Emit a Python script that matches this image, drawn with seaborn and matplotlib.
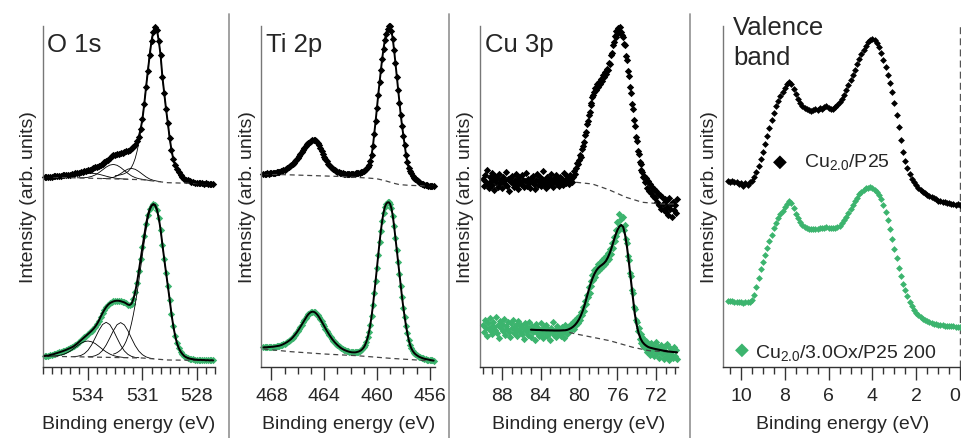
"""XPS panels: O 1s, Ti 2p, Cu 3p and valence band for two Cu/P25 samples."""
import numpy as np
import matplotlib
matplotlib.use("Agg")
import matplotlib.pyplot as plt
import seaborn as sns
from matplotlib.lines import Line2D
from matplotlib.ticker import MultipleLocator
from matplotlib.transforms import ScaledTranslation

sns.set_theme(style="white")
plt.rcParams.update({
    "font.size": 14,
    "mathtext.fontset": "custom",
    "mathtext.rm": "Liberation Sans",
    "mathtext.it": "Liberation Sans:italic",
})
plt.rcParams["font.family"] = ["Liberation Sans", "DejaVu Sans"]

GREEN = "#3cb46e"
DASH = (0, (4, 3))

# ---------------- data (intensity in arb. units, energies in eV) ----------------
# O 1s, measured points from 536.4 to 527.1 eV every 0.1 eV
o1s_top = [
    190.0, 190.2, 190.0, 190.5, 190.3, 190.8, 190.6, 191.0, 191.2, 191.0,
    191.6, 191.8, 192.0, 192.4, 192.5, 193.0, 193.3, 193.6, 194.2, 194.5,
    195.0, 195.4, 195.8, 196.2, 196.6, 197.3, 198.0, 198.8, 199.6, 200.5,
    201.4, 202.4, 203.5, 204.6, 205.8, 207.5, 209.5, 211.0, 211.8, 212.3,
    212.8, 213.2, 213.8, 214.3, 215.0, 215.6, 216.4, 217.2, 218.6, 220.2,
    222.3, 226.0, 230.5, 238.0, 248.0, 263.0, 280.0, 296.0, 312.0, 326.0,
    335.0, 340.5, 337.0, 326.0, 312.0, 290.0, 274.0, 258.0, 244.0, 229.0,
    217.0, 208.0, 202.0, 198.0, 195.0, 192.0, 190.0, 188.5, 187.4, 186.6,
    185.8, 185.2, 184.8, 184.4, 184.2, 184.0, 183.7, 183.8, 183.4, 183.6,
    183.2, 183.4, 183.0, 183.2,
]
o1s_bot = [
    11.0, 11.5, 11.2, 12.0, 12.4, 12.8, 13.5, 14.0, 14.6, 15.2,
    15.8, 16.5, 17.2, 18.0, 18.8, 19.6, 20.6, 22.0, 23.4, 25.0,
    26.6, 28.2, 29.8, 31.4, 33.0, 34.6, 36.3, 38.2, 40.5, 43.2,
    46.5, 50.5, 54.0, 57.2, 60.0, 62.2, 63.8, 64.8, 65.6, 66.1,
    66.3, 66.2, 65.8, 65.2, 64.6, 63.6, 62.4, 62.0, 63.4, 68.0,
    75.0, 84.5, 96.0, 108.0, 120.0, 131.5, 143.0, 152.0, 158.0, 161.5,
    163.0, 162.0, 157.5, 149.0, 137.5, 122.5, 108.0, 94.5, 81.0, 67.5,
    53.0, 41.0, 31.5, 24.0, 19.0, 15.5, 13.0, 11.0, 9.8, 9.0,
    8.4, 8.0, 7.6, 7.4, 7.3, 7.0, 7.2, 6.9, 7.0, 6.7,
    6.9, 6.6, 6.8, 6.6,
]
# O 1s fit components (start eV, step eV, values)
o1s_top_main = (532.5, 0.1, [
    191.3, 191.5, 191.9, 192.2, 192.7, 193.3, 194.3, 195.4, 197.4, 199.9,
    203.6, 208.6, 215.5, 224.2, 235.4, 248.9, 264.1, 280.8, 297.9, 314.1,
    327.6, 336.8, 339.8, 336.4, 326.8, 311.0, 289.5, 273.5, 257.5, 243.0,
    228.0, 216.0, 207.0, 200.5, 196.0, 192.0, 189.5, 187.8, 186.5, 185.6,
    184.9, 184.4, 184.0, 183.7, 183.5, 183.4, 183.3, 183.2, 183.2, 183.1,
    183.1,
])
o1s_top_c1 = (535.8, 0.2, [
    189.8, 189.8, 189.8, 190.0, 190.4, 190.9, 191.6, 192.4, 193.1, 193.6,
    193.7, 193.4, 192.7, 191.8, 190.8, 189.9, 189.2, 188.6, 188.2, 188.0,
    187.8,
])
o1s_top_c2 = (534.6, 0.2, [
    189.2, 189.2, 189.3, 189.7, 190.6, 192.1, 194.4, 197.1, 199.9, 201.9,
    202.6, 201.7, 199.5, 196.5, 193.6, 191.1, 189.4, 188.3, 187.7, 187.1,
    186.5,
])
o1s_top_c3 = (533.2, 0.2, [
    188.5, 188.6, 188.9, 189.7, 191.2, 193.4, 195.9, 197.9, 198.6, 197.7,
    195.5, 192.8, 190.1, 188.0, 186.7, 185.9, 185.3,
])
o1s_bot_main = (532.6, 0.1, [
    12.9, 13.5, 14.4, 15.6, 17.1, 19.3, 22.1, 25.8, 30.6, 36.5,
    43.9, 52.5, 62.5, 73.8, 86.1, 99.1, 112.3, 125.3, 137.3, 147.7,
    155.5, 160.5, 162.1, 160.5, 156.0, 148.0, 136.5, 122.5, 108.0, 94.5,
    81.0, 67.0, 53.0, 41.0, 31.5, 24.0, 19.0, 15.5, 13.0, 11.2,
    10.0, 9.2, 8.6, 8.2, 7.9, 7.6, 7.4, 7.2, 7.1, 7.0,
    6.9,
])
o1s_bot_c1 = (536.2, 0.2, [
    10.8, 10.9, 11.1, 11.5, 12.4, 13.8, 15.7, 18.3, 21.0, 23.6,
    25.4, 26.0, 25.2, 23.4, 20.6, 17.7, 15.1, 13.0, 11.4, 10.5,
    9.9, 9.5, 9.3,
])
o1s_bot_c2 = (534.8, 0.2, [
    10.5, 10.7, 11.5, 13.4, 16.8, 22.2, 29.3, 36.7, 42.5, 44.7,
    42.4, 36.4, 28.9, 21.7, 16.1, 12.6, 10.6, 9.6, 9.3,
])
o1s_bot_c3 = (534.0, 0.2, [
    10.2, 10.4, 11.3, 13.1, 16.5, 22.0, 29.0, 36.4, 42.3, 44.4,
    42.1, 36.2, 28.6, 21.4, 15.9, 12.3, 10.1, 8.9, 8.3,
])
o1s_top_bg_e = [536.4, 533.0, 531.0, 530.3, 529.6, 528.0, 527.1]
o1s_top_bg = [190.0, 188.3, 187.3, 185.8, 184.3, 183.5, 183.2]
o1s_bot_bg_e = [536.4, 531.0, 529.6, 527.1]
o1s_bot_bg = [10.8, 9.0, 7.0, 6.5]

# Ti 2p, 468.6 to 455.7 eV every 0.1 eV
ti_top = [
    193.0, 193.4, 193.2, 193.6, 193.5, 193.9, 193.8, 194.0, 194.3, 194.2,
    194.6, 194.9, 195.3, 195.6, 196.1, 196.7, 197.3, 198.0, 198.8, 199.7,
    200.6, 201.6, 202.8, 204.2, 205.6, 207.2, 208.9, 210.8, 212.9, 215.0,
    217.2, 219.3, 221.2, 222.9, 224.3, 225.5, 226.5, 227.1, 227.3, 226.9,
    225.9, 224.0, 221.6, 218.9, 216.0, 213.2, 210.5, 208.0, 205.6, 203.5,
    201.6, 200.1, 198.8, 197.7, 196.7, 195.9, 195.2, 194.7, 194.3, 194.0,
    193.7, 193.5, 193.3, 193.2, 193.1, 193.0, 193.0, 193.1, 193.2, 193.4,
    193.6, 193.9, 194.2, 194.5, 194.9, 195.4, 196.0, 196.8, 198.0, 199.7,
    202.5, 206.5, 212.5, 221.5, 233.5, 246.0, 259.5, 272.5, 285.0, 297.0,
    308.5, 318.5, 327.0, 333.5, 338.0, 340.8, 341.2, 336.0, 328.0, 317.0,
    304.0, 290.5, 277.0, 264.5, 252.5, 241.5, 231.5, 222.0, 212.5, 205.0,
    199.5, 196.0, 193.8, 191.5, 189.5, 188.0, 186.8, 185.6, 184.8, 184.0,
    183.4, 182.9, 182.5, 182.1, 181.8, 181.5, 181.3, 181.0, 180.8, 180.7,
]
ti_bot = [
    19.6, 19.8, 19.7, 19.9, 20.0, 20.0, 20.2, 20.2, 20.4, 20.5,
    20.7, 21.0, 21.3, 21.7, 22.2, 22.8, 23.5, 24.2, 25.0, 25.9,
    26.9, 28.0, 29.3, 30.8, 32.4, 34.1, 36.0, 38.0, 40.2, 42.4,
    44.6, 46.8, 49.0, 51.0, 52.7, 54.0, 54.9, 55.3, 55.2, 54.6,
    53.5, 52.0, 50.1, 48.0, 45.7, 43.3, 40.9, 38.5, 36.2, 34.0,
    31.9, 29.9, 28.0, 26.3, 24.7, 23.3, 22.0, 20.8, 19.7, 18.7,
    17.9, 17.2, 16.6, 16.1, 15.6, 15.2, 14.9, 14.7, 14.6, 14.6,
    14.7, 15.0, 15.4, 16.0, 16.8, 18.0, 19.6, 22.0, 25.3, 29.6,
    35.2, 42.5, 51.5, 62.0, 74.0, 86.5, 99.5, 112.5, 125.0, 136.5,
    146.5, 154.5, 160.0, 163.2, 164.6, 164.7, 163.0, 158.6, 151.0, 141.0,
    129.5, 117.5, 105.5, 93.5, 81.5, 70.0, 59.5, 50.0, 41.5, 34.0,
    27.5, 22.5, 18.8, 16.3, 14.4, 13.0, 11.9, 11.0, 10.2, 9.6,
    9.1, 8.6, 8.2, 7.9, 7.5, 7.3, 7.1, 6.9, 6.6, 6.4,
]
ti_top_bg_e = [468.6, 466.0, 463.0, 460.7, 460.0, 459.4, 458.8, 458.3, 457.5, 455.7]
ti_top_bg = [193.0, 191.9, 190.6, 189.0, 188.2, 186.4, 184.0, 182.4, 181.6, 181.0]
ti_bot_bg_e = [468.6, 466.5, 464.0, 461.5, 459.0, 456.4, 455.7]
ti_bot_bg = [18.0, 15.3, 13.0, 11.3, 8.7, 6.5, 6.3]

# Cu 3p, 90.0 to 69.8 eV every 0.1 eV (noisy)
cu_top = [
    188, 181, 192, 185, 197, 183, 179, 190, 186, 194,
    182, 188, 177, 191, 185, 189, 180, 193, 184, 187,
    179, 190, 186, 183, 195, 181, 188, 176, 189, 185,
    191, 184, 180, 187, 193, 182, 186, 178, 190, 185,
    183, 192, 187, 180, 186, 194, 181, 188, 184, 179,
    189, 185, 191, 183, 178, 187, 193, 182, 186, 190,
    181, 188, 184, 196, 183, 187, 179, 190, 185, 182,
    188, 193, 184, 180, 189, 186, 192, 183, 187, 181,
    190, 185, 188, 182, 194, 187, 184, 191, 186, 189,
    183, 192, 188, 185, 190, 196, 193, 199, 204, 203,
    207, 212, 210, 218, 221, 225, 232, 235, 243, 246,
    252, 255, 262, 264, 270, 272, 275, 279, 277, 283,
    280, 285, 283, 288, 286, 292, 290, 295, 293, 298,
    297, 304, 303, 312, 314, 322, 325, 331, 330, 336,
    333, 339, 336, 340, 335, 332, 330, 323, 322, 311,
    307, 296, 291, 280, 274, 263, 258, 247, 241, 230,
    226, 216, 213, 205, 203, 197, 195, 190, 191, 185,
    189, 179, 186, 176, 183, 174, 180, 171, 178, 169,
    176, 165, 173, 162, 172, 158, 170, 163, 157, 168,
    155, 166, 160, 152, 169, 158, 163, 150, 165, 157,
    162, 154, 168,
]
cu_bot = [
    42, 35, 47, 39, 31, 44, 38, 49, 36, 41,
    33, 45, 40, 37, 50, 34, 42, 29, 46, 39,
    43, 36, 48, 32, 41, 38, 45, 35, 30, 44,
    39, 47, 34, 41, 37, 43, 31, 46, 38, 35,
    42, 33, 39, 28, 44, 36, 40, 32, 45, 37,
    30, 41, 35, 38, 27, 43, 34, 39, 31, 36,
    44, 33, 37, 29, 40, 35, 42, 31, 38, 34,
    27, 39, 36, 45, 32, 37, 30, 41, 35, 33,
    38, 31, 40, 35, 29, 42, 36, 33, 39, 37,
    41, 36, 43, 39, 45, 38, 47, 42, 49, 44,
    51, 47, 55, 52, 60, 56, 66, 63, 72, 70,
    80, 74, 86, 81, 92, 87, 97, 90, 99, 95,
    103, 97, 104, 99, 107, 101, 109, 103, 111, 106,
    114, 108, 118, 113, 124, 119, 130, 126, 137, 131,
    145, 136, 153, 141, 148, 139, 150, 137, 142, 128,
    124, 111, 107, 94, 91, 77, 74, 60, 58, 47,
    45, 36, 39, 28, 33, 24, 30, 21, 27, 19,
    26, 15, 23, 18, 12, 24, 16, 21, 11, 19,
    25, 14, 20, 9, 17, 22, 13, 18, 8, 21,
    15, 10, 23, 13, 7, 19, 12, 16, 9, 20,
    11, 17, 8,
]
cu_bot_fit = (85.0, 0.2, [
    37.3, 37.2, 37.1, 37.0, 37.0, 36.9, 36.8, 36.8, 36.7, 36.7,
    36.6, 36.6, 36.5, 36.5, 36.5, 36.5, 36.6, 36.7, 36.8, 37.2,
    38.0, 39.0, 40.4, 42.2, 44.6, 47.6, 51.6, 56.5, 62.5, 69.5,
    76.5, 83.0, 88.5, 93.0, 96.5, 99.0, 100.8, 102.2, 103.8, 106.0,
    109.5, 114.0, 119.5, 126.0, 132.0, 137.0, 140.5, 142.0, 140.0, 132.0,
    119.5, 104.0, 87.0, 70.0, 53.5, 42.0, 34.0, 28.5, 25.0, 22.8,
    21.2, 20.0, 19.3, 18.8, 18.3, 17.9, 17.5, 17.1, 16.7, 16.3,
    16.0, 15.7, 15.4, 15.2, 15.0, 14.8, 14.6,
])
cu_top_bg_e = [80.3, 78.6, 76.9, 75.1, 73.4, 71.3, 69.8]
cu_top_bg = [184.7, 183.0, 177.3, 169.7, 164.7, 163.0, 163.0]
cu_bot_bg_e = [81.0, 80.3, 76.8, 74.4, 72.7, 69.8]
cu_bot_bg = [34.5, 33.0, 26.3, 19.7, 16.3, 14.7]

# valence band, 10.6 to -0.1 eV every 0.1 eV
vb_top = [
    186.5, 185.5, 186.0, 184.8, 185.2, 183.5, 184.5, 181.5, 183.8, 182.5,
    184.7, 186.5, 190.0, 195.0, 201.5, 208.5, 215.5, 223.0, 231.0, 239.5,
    247.5, 254.5, 261.0, 266.5, 271.0, 275.5, 279.5, 283.0, 285.5, 283.5,
    278.5, 273.0, 268.5, 264.5, 261.5, 259.5, 258.0, 257.0, 256.0, 256.8,
    258.5, 257.5, 259.5, 258.0, 260.0, 261.0, 259.0, 258.5, 258.5, 260.0,
    262.0, 265.0, 268.5, 272.5, 277.0, 282.0, 287.0, 292.0, 297.5, 303.0,
    308.0, 313.0, 317.5, 321.5, 325.0, 327.5, 328.5, 327.5, 324.5, 320.0,
    314.0, 307.5, 300.5, 292.5, 284.5, 275.0, 264.5, 252.5, 240.0, 227.0,
    215.0, 206.0, 199.0, 193.0, 188.5, 185.0, 182.0, 179.0, 177.0, 175.5,
    174.0, 172.5, 171.0, 170.0, 169.0, 168.0, 166.5, 166.0, 165.0, 164.8,
    164.0, 163.8, 163.2, 163.0, 162.5, 162.6, 162.2, 162.0,
]
vb_bot = [
    66.5, 66.0, 65.8, 65.2, 65.0, 64.6, 64.8, 64.4, 64.6, 64.8,
    65.5, 67.5, 72.5, 80.0, 89.0, 98.0, 105.5, 112.5, 119.5, 126.0,
    132.5, 139.0, 144.5, 149.0, 153.0, 156.5, 160.0, 163.5, 166.0, 164.5,
    159.0, 153.5, 149.0, 145.0, 142.5, 140.5, 139.5, 138.5, 138.0, 138.0,
    138.5, 138.3, 138.8, 139.2, 139.0, 140.0, 139.5, 139.0, 138.7, 139.0,
    140.0, 141.5, 144.0, 147.0, 150.5, 154.0, 158.0, 162.0, 166.0, 169.5,
    173.0, 175.5, 177.5, 178.8, 179.5, 179.8, 179.0, 177.5, 175.5, 172.5,
    168.0, 162.0, 155.0, 147.0, 138.0, 128.5, 118.5, 109.0, 99.5, 91.0,
    83.5, 77.0, 71.0, 65.5, 61.0, 57.5, 54.5, 52.0, 50.0, 48.5,
    47.0, 46.0, 45.0, 44.2, 43.5, 43.0, 42.5, 42.0, 41.7, 41.4,
    41.2, 41.0, 40.8, 40.6, 40.4, 40.2, 40.0, 39.8,
]

labels = ["Cu$_{\\mathregular{2.0}}$/P25", "Cu$_{\\mathregular{2.0}}$/3.0Ox/P25 200"]


def grid(start, step, values):
    """Energy axis (descending) for a list of points taken every `step` eV."""
    return start - step * np.arange(len(values))


def points(ax, e, y, color, size):
    sns.scatterplot(x=e, y=y, marker="D", s=size, color=color, linewidth=0,
                    ax=ax, clip_on=False, zorder=2)


def curve(ax, e, y, lw=1.4, **kw):
    sns.lineplot(x=e, y=y, sort=False, estimator=None, color="black",
                 linewidth=lw, ax=ax, zorder=3, **kw)


def thin(ax, comp):
    start, step, vals = comp
    ax.plot(grid(start, step, vals), vals, color="black", lw=0.6, zorder=3)


def bg_line(ax, e, y):
    ax.plot(e, y, color="#444444", lw=0.9, ls=DASH, zorder=3)


def setup(ax, xlim, major, minor, title):
    ax.set_xlim(*xlim)
    ax.set_ylim(0, 341)
    ax.set_yticks([])
    for s in ["top", "right"]:
        ax.spines[s].set_visible(False)
    ax.spines["left"].set_color("#777777")
    ax.spines["bottom"].set_color("#333333")
    ax.spines["left"].set_linewidth(1.0)
    ax.spines["bottom"].set_linewidth(1.0)
    ax.xaxis.set_major_locator(MultipleLocator(major))
    ax.xaxis.set_minor_locator(MultipleLocator(minor))
    ax.tick_params(axis="x", which="major", bottom=True, direction="out",
                   length=9, width=1, color="#333333", pad=5.5, labelsize=14)
    ax.tick_params(axis="x", which="minor", bottom=True, direction="out",
                   length=5, width=1, color="#333333")
    ax.set_xlabel("Binding energy (eV)", fontsize=14, labelpad=8)
    ax.set_ylabel("Intensity (arb. units)", fontsize=14, labelpad=4)
    if title:
        ax.text(0.025, 0.928, title, transform=ax.transAxes, fontsize=18.5,
                ha="left", va="baseline")


fig = plt.figure(figsize=(9.62, 4.39), dpi=100)
W, H = 962.0, 439.0
bottom, height = (H - 368) / H, 341 / H
boxes = [(42.7, 215.0), (261.5, 435.0), (480.0, 678.0), (723.5, 962.0)]
axes = [fig.add_axes([l / W, bottom, (r - l) / W, height]) for l, r in boxes]
ax1, ax2, ax3, ax4 = axes

# O 1s
e = grid(536.4, 0.1, o1s_top)
points(ax1, e, o1s_top, "black", 14)
for c in (o1s_top_c1, o1s_top_c2, o1s_top_c3, o1s_top_main):
    thin(ax1, c)
bg_line(ax1, o1s_top_bg_e, o1s_top_bg)
curve(ax1, e, o1s_top)
e = grid(536.4, 0.1, o1s_bot)
points(ax1, e, o1s_bot, GREEN, 14)
for c in (o1s_bot_c1, o1s_bot_c2, o1s_bot_c3, o1s_bot_main):
    thin(ax1, c)
bg_line(ax1, o1s_bot_bg_e, o1s_bot_bg)
curve(ax1, e, o1s_bot)
setup(ax1, (536.5, 527.0), 3, 0.5, "O 1s")

# Ti 2p
e = grid(468.6, 0.1, ti_top)
points(ax2, e, ti_top, "black", 14)
bg_line(ax2, ti_top_bg_e, ti_top_bg)
curve(ax2, e, ti_top)
e = grid(468.6, 0.1, ti_bot)
points(ax2, e, ti_bot, GREEN, 14)
bg_line(ax2, ti_bot_bg_e, ti_bot_bg)
curve(ax2, e, ti_bot)
setup(ax2, (468.75, 455.6), 4, 1, "Ti 2p")

# Cu 3p
e = grid(90.0, 0.1, cu_top)
points(ax3, e, cu_top, "black", 14)
bg_line(ax3, cu_top_bg_e, cu_top_bg)
e = grid(90.0, 0.1, cu_bot)
points(ax3, e, cu_bot, GREEN, 14)
bg_line(ax3, cu_bot_bg_e, cu_bot_bg)
start, step, vals = cu_bot_fit
curve(ax3, grid(start, step, vals), vals, lw=1.5)
setup(ax3, (90.3, 69.7), 4, 1, "Cu 3p")

# valence band
e = grid(10.6, 0.1, vb_top)
points(ax4, e, vb_top, "black", 12)
e = grid(10.6, 0.1, vb_bot)
points(ax4, e, vb_bot, GREEN, 12)
ax4.axvline(0, color="#555555", lw=1.0, ls=(0, (5, 3)), zorder=1)
setup(ax4, (10.8, -0.09), 2, 0.5, None)
ax4.text(0.04, 0.977, "Valence", transform=ax4.transAxes, fontsize=18.5,
         va="baseline", clip_on=False)
ax4.text(0.04, 0.889, "band", transform=ax4.transAxes, fontsize=18.5,
         va="baseline")
ax4.text(0.236, 0.605, "\u25c6", transform=ax4.transAxes, fontsize=13,
         ha="center", va="center", color="black", family=["DejaVu Sans"])
ax4.text(0.3375, 0.590, labels[0], transform=ax4.transAxes, fontsize=14,
         va="baseline")
ax4.text(0.076, 0.053, "\u25c6", transform=ax4.transAxes, fontsize=13,
         ha="center", va="center", color=GREEN, family=["DejaVu Sans"])
ax4.text(0.132, 0.029, labels[1], transform=ax4.transAxes, fontsize=14,
         va="baseline")

# grey separators between the panels
for x in (229, 449, 690):
    fig.add_artist(Line2D([x / W, x / W], [0, 1 - 15 / H],
                          transform=fig.transFigure, color="#9a9a9a", lw=1.3))

# keep the "0" tick label of the valence band inside the picture
fig.canvas.draw()
shift = ScaledTranslation(-4 / 72, 0, fig.dpi_scale_trans)
for tick in ax4.xaxis.get_major_ticks():
    if tick.label1.get_text() in ("0", "\u22120"):
        tick.label1.set_transform(tick.label1.get_transform() + shift)

fig.savefig("out.png", dpi=100)
